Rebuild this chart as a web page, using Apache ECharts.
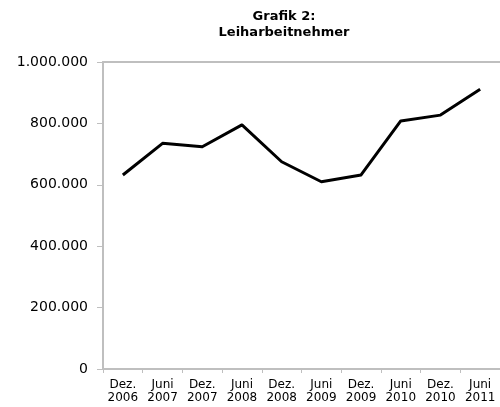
<!DOCTYPE html>
<html>
<head>
<meta charset="utf-8">
<script src="https://cdn.jsdelivr.net/npm/echarts@6/dist/echarts.min.js"></script>
<style>html,body{margin:0;padding:0;background:#fff;}#c{width:500px;height:407px;}</style>
</head>
<body>
<div id="c"></div>
<script>
var categories = ['Dez.\n2006','Juni\n2007','Dez.\n2007','Juni\n2008','Dez.\n2008','Juni\n2009','Dez.\n2009','Juni\n2010','Dez.\n2010','Juni\n2011'];
var leiharbeitnehmer = [632000, 735000, 724000, 795000, 675000, 610000, 632000, 808000, 827000, 911000];
var titleLines = ['Grafik 2:', 'Leiharbeitnehmer'];

function fmt(v){ return String(v).replace(/\B(?=(\d{3})+(?!\d))/g, '.'); }

var chart = echarts.init(document.getElementById('c'), null, {renderer:'canvas'});
chart.setOption({
  animation: false,
  backgroundColor: '#fff',
  graphic: [{
    type: 'text', x: 284, y: 9,
    style: {
      text: titleLines.join('\n'),
      textAlign: 'center', textVerticalAlign: 'top',
      font: 'bold 13px "DejaVu Sans"', lineHeight: 16, fill: '#000'
    }
  }],
  grid: {left: 103, top: 62, width: 400, bottom: 38, containLabel: false},
  xAxis: [{
    type: 'category', data: categories, boundaryGap: true, position: 'bottom',
    axisLine: {lineStyle: {color: '#bfbfbf', width: 2}},
    axisTick: {show: true, length: 4, lineStyle: {color: '#bfbfbf', width: 1}},
    axisLabel: {interval: 0, margin: 9, fontFamily: 'DejaVu Sans', fontSize: 12, lineHeight: 13, color: '#000'},
    splitLine: {show: false}
  }, {
    type: 'category', data: categories, position: 'top',
    axisLine: {lineStyle: {color: '#bfbfbf', width: 2}},
    axisTick: {show: false}, axisLabel: {show: false}, splitLine: {show: false}
  }],
  yAxis: {
    type: 'value', min: 0, max: 1000000, interval: 200000,
    axisLine: {show: true, lineStyle: {color: '#bfbfbf', width: 2}},
    axisTick: {show: true, length: 6, lineStyle: {color: '#bfbfbf', width: 1}},
    axisLabel: {margin: 15, fontFamily: 'DejaVu Sans', fontSize: 14, color: '#000', formatter: fmt},
    splitLine: {show: false}
  },
  series: [{
    type: 'line', data: leiharbeitnehmer, xAxisIndex: 0,
    showSymbol: false, symbol: 'none',
    lineStyle: {color: '#000', width: 3, join: 'round'}
  }]
});
</script>
</body>
</html>
